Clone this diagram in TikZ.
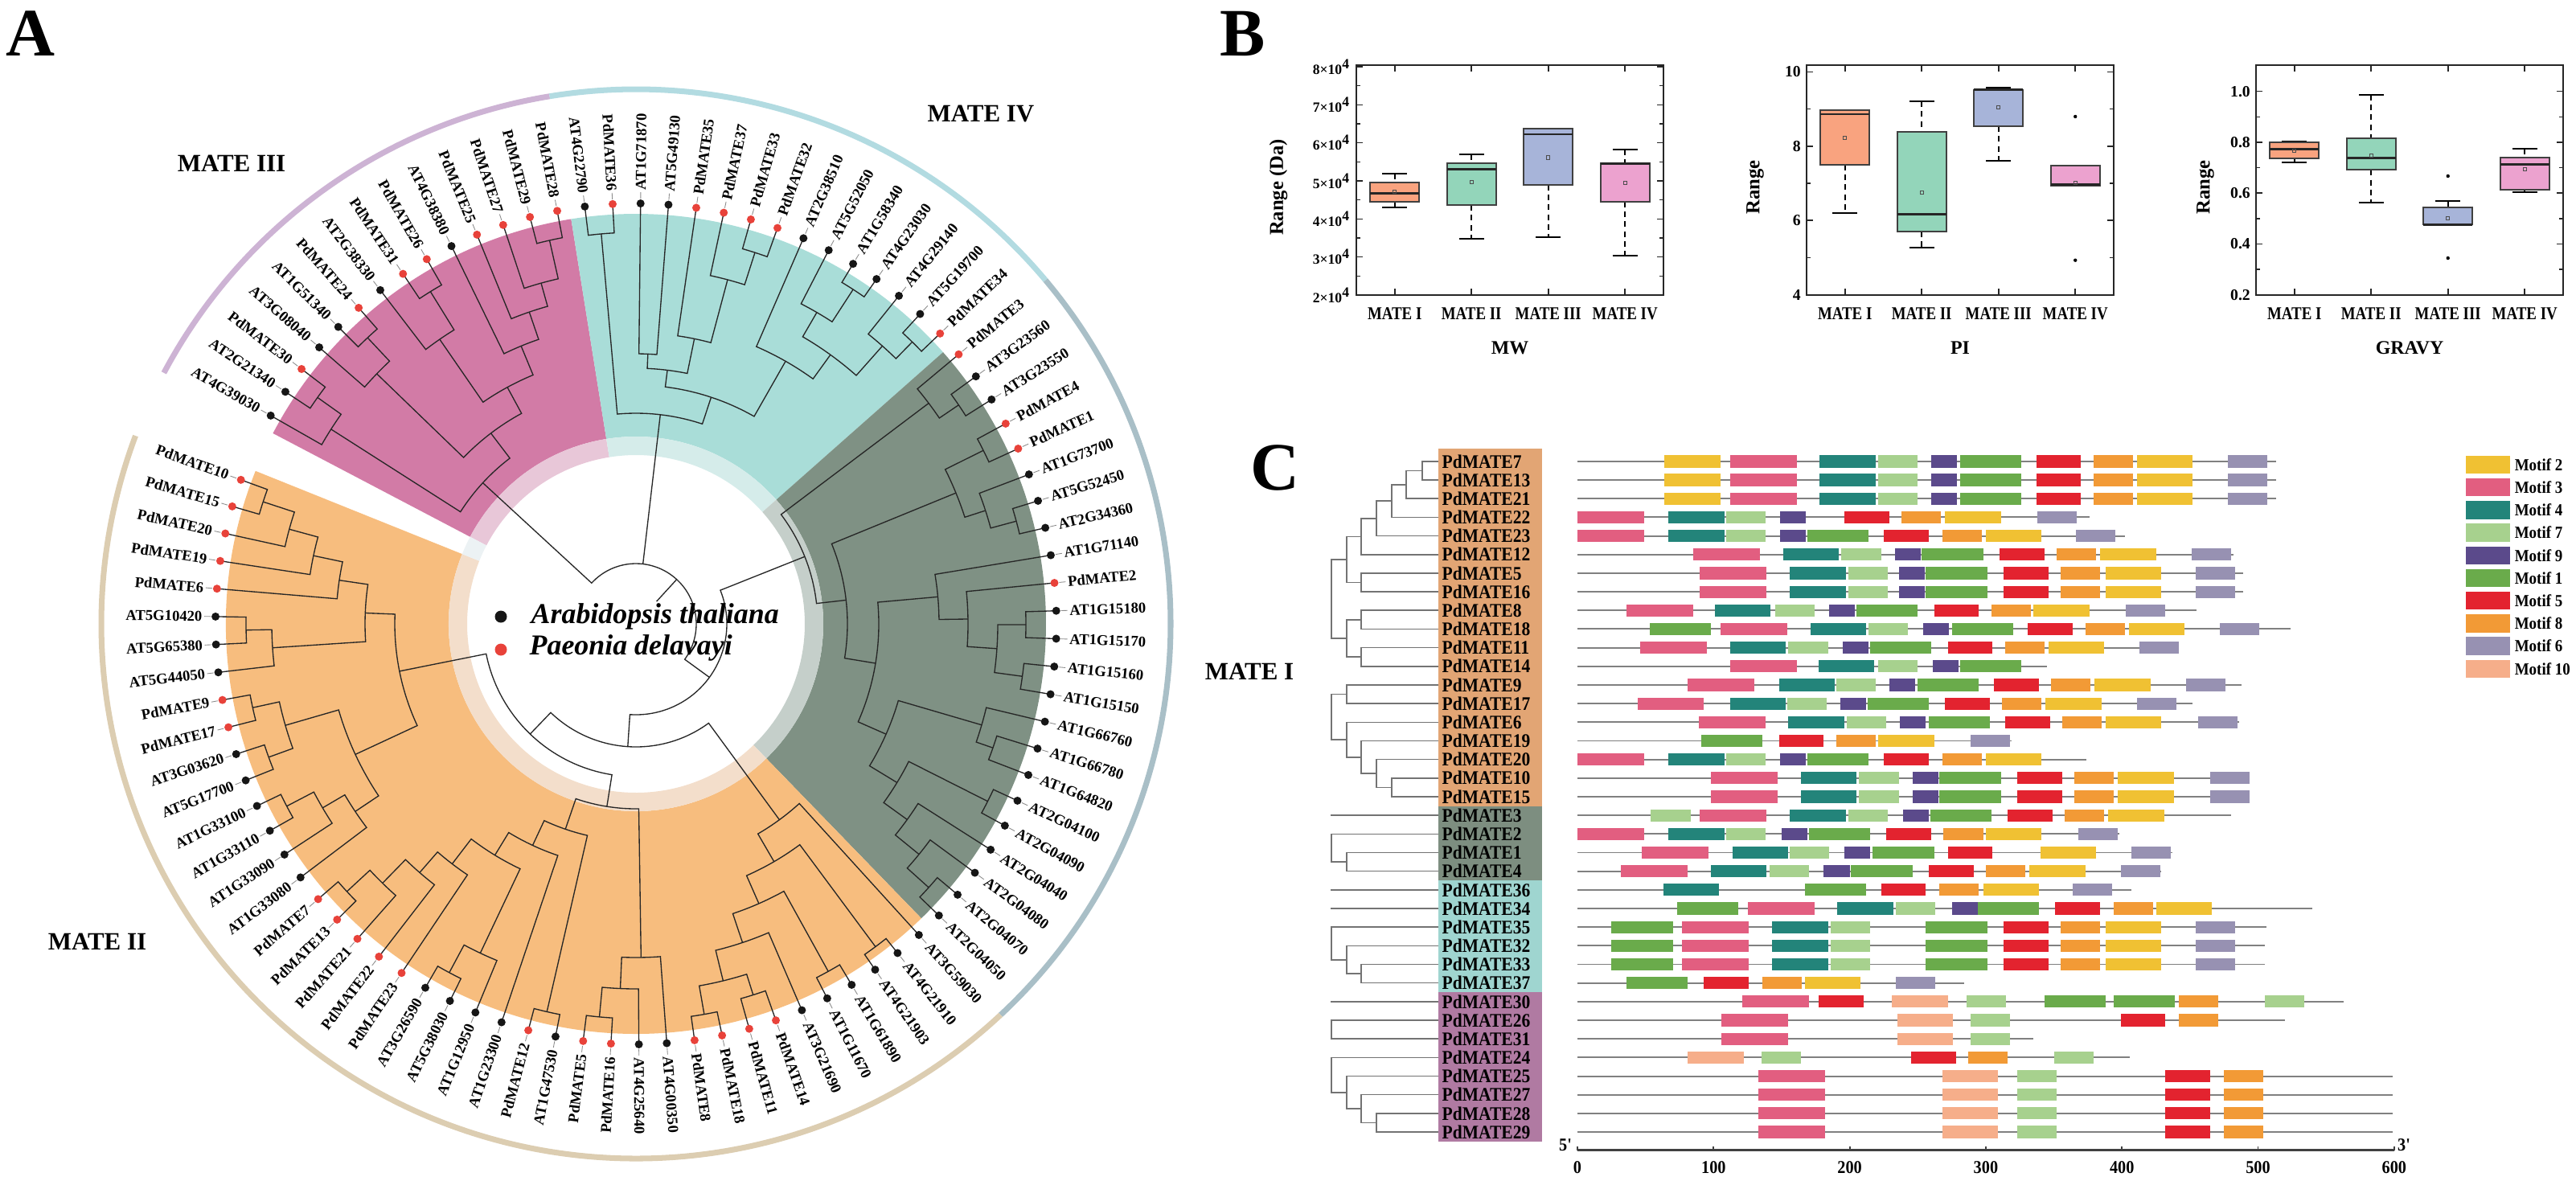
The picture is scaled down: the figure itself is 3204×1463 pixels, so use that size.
\documentclass[tikz,border=0pt]{standalone}
\usepackage{fontspec}
\setmainfont{Liberation Serif}
\newfontfamily\narrowfont{Liberation Serif}[FakeStretch=0.9]
\newfontfamily\catfont{Liberation Serif}[FakeStretch=0.84]

% panel A colours
\definecolor{fillIII}{HTML}{D27BA6}
\definecolor{fillIV}{HTML}{A9DDD8}
\definecolor{fillI}{HTML}{7F9184}
\definecolor{fillII}{HTML}{F7BD7E}
\definecolor{ringIII}{HTML}{E8C7D8}
\definecolor{ringIV}{HTML}{D5ECEA}
\definecolor{ringI}{HTML}{C5CFCA}
\definecolor{ringII}{HTML}{F3DECB}
\definecolor{ringgap}{HTML}{ECF2F4}
\definecolor{arcIII}{HTML}{CDB3D4}
\definecolor{arcIV}{HTML}{B2DBE1}
\definecolor{arcI}{HTML}{A9BFC7}
\definecolor{arcII}{HTML}{DCCDB1}
\definecolor{dotat}{HTML}{161616}
\definecolor{dotpd}{HTML}{E8423A}
% panel B colours
\definecolor{boxI}{HTML}{F9A37F}
\definecolor{boxII}{HTML}{93D5BA}
\definecolor{boxIII}{HTML}{A7B4D9}
\definecolor{boxIV}{HTML}{ECA2CF}
% panel C colours
\definecolor{mtf1}{HTML}{6AAB4B}
\definecolor{mtf2}{HTML}{F0C133}
\definecolor{mtf3}{HTML}{E25E80}
\definecolor{mtf4}{HTML}{23847A}
\definecolor{mtf5}{HTML}{E3232F}
\definecolor{mtf6}{HTML}{9791B2}
\definecolor{mtf7}{HTML}{A7D18E}
\definecolor{mtf8}{HTML}{F29A36}
\definecolor{mtf9}{HTML}{5B4A8B}
\definecolor{mtf10}{HTML}{F6AE8A}
\definecolor{grpII}{HTML}{E2A574}
\definecolor{grpI}{HTML}{7D8E80}
\definecolor{grpIV}{HTML}{9FD5D0}
\definecolor{grpIII}{HTML}{B07AA2}

\newcommand\annsector[5]{\fill[#5] (#1:#3) arc[start angle=#1,end angle=#2,radius=#3] -- (#2:#4) arc[start angle=#2,end angle=#1,radius=#4] -- cycle;}

% circular clade: name, child, child, radius
\newcommand\joinclade[4]{%
  \pgfmathsetmacro\angA{\csname ag@#2\endcsname}%
  \pgfmathsetmacro\angB{\csname ag@#3\endcsname}%
  \pgfmathsetmacro\angM{(\angA+\angB)/2}%
  \expandafter\xdef\csname ag@#1\endcsname{\angM}%
  \coordinate (#1) at (\angM:#4);
  \draw[branch] (#2) -- (\angA:#4) arc[start angle=\angA,end angle=\angB,radius=#4] -- (#3);
}

% rectangular clade: name, child, child, x
\newcommand\joinrow[4]{%
  \pgfmathsetmacro\rowA{\csname cy@#2\endcsname}%
  \pgfmathsetmacro\rowB{\csname cy@#3\endcsname}%
  \pgfmathsetmacro\rowM{(\rowA+\rowB)/2}%
  \expandafter\xdef\csname cy@#1\endcsname{\rowM}%
  \coordinate (#1) at (#4,\rowM);
  \draw[ctree] (#2) -| (#1) |- (#3);
}

% box plot: x, whisker top, box top, median, box bottom, whisker bottom, mean, colour
\newcommand\drawbox[8]{%
  \draw[whisker] (#1,#2) -- (#1,#3) (#1,#5) -- (#1,#6);
  \draw[whisker cap] (#1-15.5,#2) -- (#1+15.5,#2) (#1-15.5,#6) -- (#1+15.5,#6);
  \filldraw[fill=#8, draw=black!75, line width=0.5pt] (#1-30.5,#3) rectangle (#1+30.5,#5);
  \draw[black!85, line width=0.75pt] (#1-30.5,#4) -- (#1+30.5,#4);
  \draw[black!70, line width=0.3pt] (#1-2.2,#7-2.2) rectangle (#1+2.2,#7+2.2);
}

\begin{document}
\begin{tikzpicture}[x=0.01cm, y=-0.01cm,
  branch/.style={line width=0.38pt, black!85},
  leaf dash/.style={line width=0.25pt, black!45},
  leaf label/.style={font=\fontsize{5.3}{6}\selectfont\bfseries, inner sep=0pt},
  group label/.style={font=\fontsize{8.8}{10}\selectfont\bfseries},
  panel label/.style={font=\fontsize{24}{26}\selectfont\bfseries, inner sep=0pt},
  species/.style={font=\fontsize{10.2}{12}\selectfont\bfseries\itshape, anchor=west, inner sep=0pt},
  outer arc/.style={line width=2pt},
  axis frame/.style={line width=0.6pt, black!85},
  axis tick/.style={line width=0.45pt, black!85},
  whisker/.style={line width=0.5pt, dash pattern=on 2pt off 1.5pt},
  whisker cap/.style={line width=0.55pt},
  tick label/.style={font=\fontsize{5.6}{6}\selectfont\bfseries, anchor=east, inner sep=1pt},
  cat label/.style={font=\catfont\fontsize{6.4}{7}\selectfont\bfseries, inner sep=0pt},
  axis title/.style={font=\fontsize{6.8}{8}\selectfont\bfseries, inner sep=0pt},
  ctree/.style={line width=0.45pt, black!55},
  name label/.style={font=\narrowfont\fontsize{6.8}{7}\selectfont\bfseries, anchor=west, inner sep=0pt},
  backbone/.style={line width=0.55pt, black!50},
  axis num/.style={font=\narrowfont\fontsize{6.4}{7}\selectfont\bfseries, inner sep=0pt},
  legend label/.style={font=\narrowfont\fontsize{6}{7}\selectfont\bfseries, anchor=west, inner sep=0pt}]

\useasboundingbox (0,0) rectangle (3204,1463);

% ---------------- panel A ----------------
\node[panel label] (pA) at (38,42) {A};
\begin{scope}[shift={(791,776)}, y=0.01cm]
  \draw[outer arc, arcIII] (152:665) arc[start angle=152,end angle=99.3,radius=665];
  \draw[outer arc, arcIV] (99.3:665) arc[start angle=99.3,end angle=40,radius=665];
  \draw[outer arc, arcI] (40:665) arc[start angle=40,end angle=-47,radius=665];
  \draw[outer arc, arcII] (-47:665) arc[start angle=-47,end angle=-200.6,radius=665];

  \annsector{152.3}{99.1}{233}{510}{fillIII}
  \annsector{99.1}{41.5}{233}{510}{fillIV}
  \annsector{41.5}{-45.9}{233}{510}{fillI}
  \annsector{-45.9}{-201.9}{233}{510}{fillII}
  \annsector{152.3}{99.1}{210}{233}{ringIII}
  \annsector{99.1}{41.5}{210}{233}{ringIV}
  \annsector{41.5}{-45.9}{210}{233}{ringI}
  \annsector{-45.9}{-201.9}{210}{233}{ringII}
  \annsector{-201.9}{-207.7}{210}{233}{ringgap}

  % leaves
  \foreach \nm/\tp [count=\i from 0] in {AT4G39030/at,AT2G21340/at,PdMATE30/pd,AT3G08040/at,AT1G51340/at,PdMATE24/pd,AT2G38330/at,PdMATE31/pd,PdMATE26/pd,AT4G38380/at,PdMATE25/pd,PdMATE27/pd,PdMATE29/pd,PdMATE28/pd,
    AT4G22790/at,PdMATE36/pd,AT1G71870/at,AT5G49130/at,PdMATE35/pd,PdMATE37/pd,PdMATE33/pd,PdMATE32/pd,AT2G38510/at,AT5G52050/at,AT1G58340/at,AT4G23030/at,AT4G29140/at,AT5G19700/at,PdMATE34/pd,
    PdMATE3/pd,AT3G23560/at,AT3G23550/at,PdMATE4/pd,PdMATE1/pd,AT1G73700/at,AT5G52450/at,AT2G34360/at,AT1G71140/at,PdMATE2/pd,AT1G15180/at,AT1G15170/at,AT1G15160/at,AT1G15150/at,AT1G66760/at,AT1G66780/at,AT1G64820/at,AT2G04100/at,AT2G04090/at,AT2G04040/at,AT2G04080/at,AT2G04070/at,AT2G04050/at,
    AT3G59030/at,AT4G21910/at,AT4G21903/at,AT1G61890/at,AT1G11670/at,AT3G21690/at,PdMATE14/pd,PdMATE11/pd,PdMATE18/pd,PdMATE8/pd,AT4G00350/at,AT4G25640/at,PdMATE16/pd,PdMATE5/pd,AT1G47530/at,PdMATE12/pd,AT1G23300/at,AT1G12950/at,AT5G38030/at,AT3G26590/at,PdMATE23/pd,PdMATE22/pd,PdMATE21/pd,PdMATE13/pd,PdMATE7/pd,AT1G33080/at,AT1G33090/at,AT1G33110/at,AT1G33100/at,AT5G17700/at,AT3G03620/at,PdMATE17/pd,PdMATE9/pd,AT5G44050/at,AT5G65380/at,AT5G10420/at,PdMATE6/pd,PdMATE19/pd,PdMATE20/pd,PdMATE15/pd,PdMATE10/pd} {
    \pgfmathsetmacro\ang{150.3-3.808*\i}
    \expandafter\xdef\csname ag@\nm\endcsname{\ang}
    \coordinate (\nm) at (\ang:523);
    \pgfmathsetmacro\side{cos(\ang)>=0}
    \ifdim\side pt>0.5pt
      \pgfmathsetmacro\rot{\ang}\def\anc{west}
    \else
      \pgfmathsetmacro\rot{\ang+180}\def\anc{east}
    \fi
    \draw[leaf dash] (\ang:529) -- (\ang:537);
    \node[leaf label, rotate=\rot, anchor=\anc] (\nm-t) at (\ang:539) {\nm};
  }

  % MATE III
  \joinclade{k12}{PdMATE29}{PdMATE28}{489}
  \joinclade{k11}{PdMATE27}{k12}{440}
  \joinclade{k10}{PdMATE25}{k11}{410}
  \joinclade{k9}{AT4G38380}{k10}{374}
  \joinclade{k7}{PdMATE31}{PdMATE26}{486}
  \joinclade{k6}{AT2G38330}{k7}{430}
  \joinclade{k5}{k6}{k9}{335}
  \joinclade{k4}{AT1G51340}{PdMATE24}{488}
  \joinclade{k3}{AT3G08040}{k4}{448}
  \joinclade{k2}{k3}{k5}{298}
  \joinclade{k1}{AT2G21340}{PdMATE30}{486}
  \joinclade{k0}{AT4G39030}{k1}{450}
  \joinclade{cladeIII}{k0}{k2}{259}
  % MATE IV
  \joinclade{v1}{AT4G22790}{PdMATE36}{487}
  \joinclade{v2}{AT1G71870}{AT5G49130}{336}
  \joinclade{v3}{PdMATE33}{PdMATE32}{485}
  \joinclade{v4}{PdMATE37}{v3}{443}
  \joinclade{v5}{PdMATE35}{v4}{362}
  \joinclade{v6}{v2}{v5}{318}
  \joinclade{v7}{AT1G58340}{AT4G23030}{496}
  \joinclade{v8}{AT5G52050}{v7}{448}
  \joinclade{v9}{AT5G19700}{PdMATE34}{491}
  \joinclade{v10}{AT4G29140}{v9}{462}
  \joinclade{v11}{v8}{v10}{413}
  \joinclade{v12}{AT2G38510}{v11}{376}
  \joinclade{v13}{v6}{v12}{297}
  \joinclade{cladeIV}{v1}{v13}{262}
  % MATE I
  \joinclade{e1}{AT3G23560}{AT3G23550}{485}
  \joinclade{e2}{PdMATE3}{e1}{456}
  \joinclade{e3}{PdMATE4}{PdMATE1}{483}
  \joinclade{e4}{AT5G52450}{AT2G34360}{490}
  \joinclade{e5}{AT1G73700}{e4}{457}
  \joinclade{e6}{e3}{e5}{430}
  \joinclade{e7}{AT1G15180}{AT1G15170}{485}
  \joinclade{e8}{AT1G15160}{AT1G15150}{485}
  \joinclade{e9}{e7}{e8}{450}
  \joinclade{e10}{PdMATE2}{e9}{413}
  \joinclade{e11}{AT1G71140}{e10}{377}
  \joinclade{e12}{AT1G66780}{AT1G64820}{470}
  \joinclade{e13}{AT1G66760}{e12}{448}
  \joinclade{e14}{AT2G04100}{AT2G04090}{490}
  \joinclade{e15}{AT2G04070}{AT2G04050}{490}
  \joinclade{e16}{AT2G04080}{e15}{454}
  \joinclade{e17}{AT2G04040}{e16}{416}
  \joinclade{e18}{e14}{e17}{380}
  \joinclade{e19}{e13}{e18}{340}
  \joinclade{e20}{e11}{e19}{302}
  \joinclade{e21}{e6}{e20}{263}
  \joinclade{cladeI}{e2}{e21}{226}
  % MATE II
  \joinclade{f1}{AT4G21910}{AT4G21903}{500}
  \joinclade{f2}{AT1G61890}{AT1G11670}{494}
  \joinclade{f3}{PdMATE14}{PdMATE11}{484}
  \joinclade{f4}{PdMATE18}{PdMATE8}{493}
  \joinclade{f5}{f3}{f4}{457}
  \joinclade{f6}{AT3G21690}{f5}{418}
  \joinclade{f7}{f2}{f6}{380}
  \joinclade{f8}{f1}{f7}{342}
  \joinclade{f9}{AT3G59030}{f8}{302}
  \joinclade{g1}{PdMATE16}{PdMATE5}{491}
  \joinclade{g2}{AT4G25640}{g1}{454}
  \joinclade{g3}{AT4G00350}{g2}{415}
  \joinclade{g4}{AT1G47530}{PdMATE12}{495}
  \joinclade{g5}{AT5G38030}{AT3G26590}{492}
  \joinclade{g6}{AT1G12950}{g5}{453}
  \joinclade{g7}{PdMATE13}{PdMATE7}{490}
  \joinclade{g8}{PdMATE21}{g7}{451}
  \joinclade{g9}{PdMATE22}{g8}{410}
  \joinclade{g10}{PdMATE23}{g9}{376}
  \joinclade{g11}{g6}{g10}{337}
  \joinclade{g12}{AT1G23300}{g11}{304}
  \joinclade{g13}{g4}{g12}{270}
  \joinclade{g14}{g3}{g13}{230}
  \joinclade{h1}{AT1G33110}{AT1G33100}{490}
  \joinclade{h2}{AT1G33090}{h1}{452}
  \joinclade{h3}{AT1G33080}{h2}{420}
  \joinclade{h4}{AT5G17700}{AT3G03620}{486}
  \joinclade{h5}{PdMATE17}{PdMATE9}{488}
  \joinclade{h6}{h4}{h5}{454}
  \joinclade{h7}{h3}{h6}{385}
  \joinclade{h8}{AT5G65380}{AT5G10420}{485}
  \joinclade{h9}{AT5G44050}{h8}{453}
  \joinclade{h10}{PdMATE15}{PdMATE10}{488}
  \joinclade{h11}{PdMATE20}{h10}{447}
  \joinclade{h12}{PdMATE19}{h11}{410}
  \joinclade{h13}{PdMATE6}{h12}{373}
  \joinclade{h14}{h9}{h13}{337}
  \joinclade{h15}{h7}{h14}{300}
  \joinclade{h16}{h15}{g14}{190}
  \joinclade{cladeII}{h16}{f9}{153}
  \joinclade{iandii}{cladeI}{cladeII}{113}
  % root
  \pgfmathsetmacro\aIII{\csname ag@cladeIII\endcsname}
  \pgfmathsetmacro\aIV{\csname ag@cladeIV\endcsname}
  \pgfmathsetmacro\aIandII{\csname ag@iandii\endcsname}
  \coordinate (root) at (47.5:38);
  \draw[branch] (cladeIII) -- (\aIII:75) arc[start angle=\aIII,end angle=\aIandII,radius=75] -- (iandii);
  \draw[branch] (cladeIV) -- (\aIV:75);
  \draw[branch] (root) -- (47.5:75);

  % dots on top of branches
  \foreach \nm/\tp in {AT4G39030/at,AT2G21340/at,PdMATE30/pd,AT3G08040/at,AT1G51340/at,PdMATE24/pd,AT2G38330/at,PdMATE31/pd,PdMATE26/pd,AT4G38380/at,PdMATE25/pd,PdMATE27/pd,PdMATE29/pd,PdMATE28/pd,
    AT4G22790/at,PdMATE36/pd,AT1G71870/at,AT5G49130/at,PdMATE35/pd,PdMATE37/pd,PdMATE33/pd,PdMATE32/pd,AT2G38510/at,AT5G52050/at,AT1G58340/at,AT4G23030/at,AT4G29140/at,AT5G19700/at,PdMATE34/pd,
    PdMATE3/pd,AT3G23560/at,AT3G23550/at,PdMATE4/pd,PdMATE1/pd,AT1G73700/at,AT5G52450/at,AT2G34360/at,AT1G71140/at,PdMATE2/pd,AT1G15180/at,AT1G15170/at,AT1G15160/at,AT1G15150/at,AT1G66760/at,AT1G66780/at,AT1G64820/at,AT2G04100/at,AT2G04090/at,AT2G04040/at,AT2G04080/at,AT2G04070/at,AT2G04050/at,
    AT3G59030/at,AT4G21910/at,AT4G21903/at,AT1G61890/at,AT1G11670/at,AT3G21690/at,PdMATE14/pd,PdMATE11/pd,PdMATE18/pd,PdMATE8/pd,AT4G00350/at,AT4G25640/at,PdMATE16/pd,PdMATE5/pd,AT1G47530/at,PdMATE12/pd,AT1G23300/at,AT1G12950/at,AT5G38030/at,AT3G26590/at,PdMATE23/pd,PdMATE22/pd,PdMATE21/pd,PdMATE13/pd,PdMATE7/pd,AT1G33080/at,AT1G33090/at,AT1G33110/at,AT1G33100/at,AT5G17700/at,AT3G03620/at,PdMATE17/pd,PdMATE9/pd,AT5G44050/at,AT5G65380/at,AT5G10420/at,PdMATE6/pd,PdMATE19/pd,PdMATE20/pd,PdMATE15/pd,PdMATE10/pd}
    \fill[dot\tp] (\nm) circle[radius=5];

  % species key
  \coordinate (sp1) at (-168,9);
  \coordinate (sp2) at (-168,-32);
  \fill[dotat] (sp1) circle[radius=7.5];
  \fill[dotpd] (sp2) circle[radius=7.5];
  \node[species] (spA) at (-131,9) {Arabidopsis thaliana};
  \node[species] (spP) at (-133,-30) {Paeonia delavayi};
\end{scope}
\node[group label] (labIII) at (288,203) {MATE III};
\node[group label] (labIV) at (1220,142) {MATE IV};
\node[group label] (labI) at (1554,835) {MATE I};
\node[group label] (labII) at (121,1171) {MATE II};

% ---------------- panel B ----------------
\node[panel label] (pB) at (1546,42) {B};
\foreach \L [count=\p] in {1687,2247,2806} {
  \draw[axis frame] (\L,81) rectangle (\L+382,367);
  \foreach \g [count=\k from 0] in {MATE I,MATE II,MATE III,MATE IV} {
    \draw[axis tick] (\L+47.7+95.5*\k,81) -- ++(0,8);
    \draw[axis tick] (\L+47.7+95.5*\k,367) -- ++(0,-8);
    \node[cat label] (cat\p-\k) at (\L+47.7+95.5*\k,390) {\g};
  }
}
% MW axis
\foreach \v [count=\k from 0] in {8,7,6,5,4,3,2} {
  \pgfmathsetmacro\yy{83+47.33*\k}
  \draw[axis tick] (1687,\yy) -- ++(8,0);
  \draw[axis tick] (2069,\yy) -- ++(-8,0);
  \node[tick label, font=\fontsize{5}{6}\selectfont\bfseries] (mw\v) at (1684,\yy) {\v×10\textsuperscript{4}};
}
\foreach \k in {0,...,5} {
  \pgfmathsetmacro\yy{83+47.33*(\k+0.5)}
  \draw[axis tick] (1687,\yy) -- ++(5,0);
  \draw[axis tick] (2069,\yy) -- ++(-5,0);
}
% PI axis
\foreach \v [count=\k from 0] in {10,8,6,4} {
  \pgfmathsetmacro\yy{89.3+92.47*\k}
  \draw[axis tick] (2247,\yy) -- ++(8,0);
  \draw[axis tick] (2629,\yy) -- ++(-8,0);
  \node[tick label] (pi\v) at (2244,\yy) {\v};
}
\foreach \k in {0,1,2} {
  \pgfmathsetmacro\yy{89.3+92.47*(\k+0.5)}
  \draw[axis tick] (2247,\yy) -- ++(5,0);
  \draw[axis tick] (2629,\yy) -- ++(-5,0);
}
% GRAVY axis
\foreach \v [count=\k from 0] in {1.0,0.8,0.6,0.4,0.2} {
  \pgfmathsetmacro\yy{113.7+63.25*\k}
  \draw[axis tick] (2806,\yy) -- ++(8,0);
  \draw[axis tick] (3188,\yy) -- ++(-8,0);
  \node[tick label] (gr\k) at (2803,\yy) {\v};
}
\foreach \k in {0,...,3} {
  \pgfmathsetmacro\yy{145.3+63.25*\k}
  \draw[axis tick] (2806,\yy) -- ++(5,0);
  \draw[axis tick] (3188,\yy) -- ++(-5,0);
}
\node[axis title, rotate=90, font=\fontsize{7}{8}\selectfont\bfseries] (ylMW) at (1590,233) {Range (Da)};
\node[axis title, rotate=90, font=\fontsize{7}{8}\selectfont\bfseries] (ylPI) at (2183,233) {Range};
\node[axis title, rotate=90, font=\fontsize{7}{8}\selectfont\bfseries] (ylGR) at (2743,233) {Range};
\node[axis title] (tMW) at (1878,433) {MW};
\node[axis title] (tPI) at (2438,433) {PI};
\node[axis title] (tGR) at (2997,433) {GRAVY};
% MW boxes
\drawbox{1734.7}{216}{226.7}{240.3}{251}{258}{238.7}{boxI}
\drawbox{1830.2}{192.3}{203}{210.7}{255}{297.3}{226.7}{boxII}
\drawbox{1925.7}{160}{160}{167}{229.7}{295}{196}{boxIII}
\drawbox{2021.2}{186}{203.3}{203.3}{250.7}{318.3}{227.3}{boxIV}
% PI boxes
\drawbox{2294.7}{136.7}{137.3}{142}{204.7}{265}{171.7}{boxI}
\drawbox{2390.2}{126}{164.3}{266.7}{287.7}{308}{239.3}{boxII}
\drawbox{2485.7}{108.7}{111.7}{111.7}{157}{200.3}{133.3}{boxIII}
\drawbox{2581.2}{206.3}{206.3}{229.7}{231.3}{231.3}{227.7}{boxIV}
\fill (2581.2,145) circle[radius=2.2] (2581.2,323.7) circle[radius=2.2];
% GRAVY boxes
\drawbox{2853.7}{175.7}{177}{185.3}{197.3}{202.3}{187.7}{boxI}
\drawbox{2949.2}{117.7}{171.7}{196.3}{211.3}{252}{193.3}{boxII}
\drawbox{3044.7}{250}{257.7}{279.3}{279.3}{279.3}{271.7}{boxIII}
\drawbox{3140.2}{185}{195.7}{204.7}{235.7}{239.3}{210.7}{boxIV}
\fill (3044.7,219) circle[radius=2.2] (3044.7,321) circle[radius=2.2];

% ---------------- panel C ----------------
\node[panel label] (pC) at (1586,582) {C};
\fill[grpII] (1789,558) rectangle (1918,1002.6);
\fill[grpI] (1789,1002.6) rectangle (1918,1095.3);
\fill[grpIV] (1789,1095.3) rectangle (1918,1234.3);
\fill[grpIII] (1789,1234.3) rectangle (1918,1419.7);

\foreach \nm/\len/\mots [count=\rw] in {
  PdMATE7/513/{2/64,3/112,4/178,7/221,9/260,1/281,5/337,8/379,2/411,6/478},
  PdMATE13/513/{2/64,3/112,4/178,7/221,9/260,1/281,5/337,8/379,2/411,6/478},
  PdMATE21/513/{2/64,3/112,4/178,7/221,9/260,1/281,5/337,8/379,2/411,6/478},
  PdMATE22/376/{3/0,4/67,7/109,9/149,5/196,8/238,2/270,6/338},
  PdMATE23/402/{3/0,4/67,7/109,9/149,1/169,5/225,8/268,2/300,6/366},
  PdMATE12/482/{3/85,4/151,7/194,9/233,1/253,5/310,8/352,2/384,6/451},
  PdMATE5/489/{3/90,4/156,7/199,9/236,1/256,5/313,8/355,2/388,6/454},
  PdMATE16/489/{3/90,4/156,7/199,9/236,1/256,5/313,8/355,2/388,6/454},
  PdMATE8/455/{3/36,4/101,7/145,9/185,1/205,5/262,8/304,2/335,6/403},
  PdMATE18/524/{1/53,3/105,4/171,7/214,9/254,1/275,5/331,8/373,2/405,6/472},
  PdMATE11/442/{3/46,4/112,7/155,9/195,1/215,5/272,8/314,2/346,6/413},
  PdMATE14/345/{3/112,4/177,7/221,9/261,1/281},
  PdMATE9/488/{3/81,4/148,7/190,9/229,1/250,5/306,8/348,2/380,6/447},
  PdMATE17/452/{3/44,4/112,7/154,9/193,1/213,5/270,8/312,2/344,6/411},
  PdMATE6/486/{3/89,4/155,7/198,9/237,1/258,5/314,8/356,2/388,6/456},
  PdMATE19/319/{1/91,5/148,8/190,2/221,6/289},
  PdMATE20/374/{3/0,4/67,7/109,9/149,1/169,5/225,8/268,2/300},
  PdMATE10/494/{3/98,4/164,7/207,9/246,1/266,5/323,8/365,2/397,6/465},
  PdMATE15/494/{3/98,4/164,7/207,9/246,1/266,5/323,8/365,2/397,6/465},
  PdMATE3/480/{7/54,3/90,4/156,7/199,9/239,1/259,5/316,8/358,2/390},
  PdMATE2/398/{3/0,4/67,7/109,9/150,1/170,5/227,8/269,2/300,6/368},
  PdMATE1/437/{3/47,4/114,7/156,9/196,1/217,5/272,2/340,6/407},
  PdMATE4/429/{3/32,4/98,7/141,9/181,1/201,5/258,8/300,2/332,6/399},
  PdMATE36/407/{4/63,1/167,5/223,8/266,2/298,6/364},
  PdMATE34/540/{1/73,3/125,4/191,7/234,9/275,1/294,5/351,8/394,2/425},
  PdMATE35/506/{1/25,3/77,4/143,7/186,1/256,5/313,8/355,2/388,6/454},
  PdMATE32/505/{1/25,3/77,4/143,7/186,1/256,5/313,8/355,2/388,6/454},
  PdMATE33/505/{1/25,3/77,4/143,7/186,1/256,5/313,8/355,2/388,6/454},
  PdMATE37/284/{1/36,5/93,8/136,2/167,6/234},
  PdMATE30/563/{3/121,5/177,10/231,7/286,1/343,1/394,8/442,7/505},
  PdMATE26/520/{3/106,10/235,7/289,5/399,8/442},
  PdMATE31/335/{3/106,10/235,7/289},
  PdMATE24/406/{10/81,7/135,5/245,8/287,7/350},
  PdMATE25/599/{3/133,10/268,7/323,5/432,8/475},
  PdMATE27/599/{3/133,10/268,7/323,5/432,8/475},
  PdMATE28/599/{3/133,10/268,7/323,5/432,8/475},
  PdMATE29/599/{3/133,10/268,7/323,5/432,8/475}} {
  \pgfmathsetmacro\yy{573.9+23.17*(\rw-1)}
  \expandafter\xdef\csname cy@C-\nm\endcsname{\yy}
  \coordinate (C-\nm) at (1789,\yy);
  \node[name label] (C-\nm-t) at (1793,\yy) {\nm};
  \draw[backbone] (1962,\yy) -- (1962+1.693*\len,\yy);
  \foreach \m/\s in \mots {
    \pgfmathsetmacro\mwid{{45,41,49,41,33,29,29,29,19,41}[\m-1]}
    \fill[mtf\m] (1962+1.693*\s,\yy-7.6) rectangle (1962+1.693*\s+1.693*\mwid,\yy+7.6);
  }
}
% tree of panel C
\joinrow{ca1}{C-PdMATE7}{C-PdMATE13}{1769}
\joinrow{ca2}{ca1}{C-PdMATE21}{1749}
\joinrow{ca3}{ca2}{C-PdMATE22}{1731}
\joinrow{ca4}{ca3}{C-PdMATE23}{1712}
\joinrow{ca5}{ca4}{C-PdMATE12}{1693}
\joinrow{ca6}{C-PdMATE5}{C-PdMATE16}{1693}
\joinrow{ca7}{ca5}{ca6}{1675}
\joinrow{ca8}{C-PdMATE8}{C-PdMATE18}{1693}
\joinrow{ca9}{C-PdMATE11}{C-PdMATE14}{1693}
\joinrow{ca10}{ca8}{ca9}{1675}
\joinrow{ca11}{ca7}{ca10}{1656}
\joinrow{cb1}{C-PdMATE10}{C-PdMATE15}{1731}
\joinrow{cb2}{C-PdMATE20}{cb1}{1712}
\joinrow{cb3}{C-PdMATE19}{cb2}{1693}
\joinrow{cb4}{C-PdMATE6}{cb3}{1675}
\joinrow{cb5}{C-PdMATE9}{C-PdMATE17}{1675}
\joinrow{cb6}{cb5}{cb4}{1656}
\joinrow{cc1}{C-PdMATE1}{C-PdMATE4}{1675}
\joinrow{cc2}{C-PdMATE2}{cc1}{1656}
\joinrow{cd1}{C-PdMATE33}{C-PdMATE37}{1693}
\joinrow{cd2}{C-PdMATE32}{cd1}{1675}
\joinrow{cd3}{C-PdMATE35}{cd2}{1656}
\joinrow{ce1}{C-PdMATE26}{C-PdMATE31}{1656}
\joinrow{ce2}{C-PdMATE28}{C-PdMATE29}{1712}
\joinrow{ce3}{C-PdMATE27}{ce2}{1693}
\joinrow{ce4}{C-PdMATE25}{ce3}{1675}
\joinrow{ce5}{C-PdMATE24}{ce4}{1656}
\foreach \c in {PdMATE3,PdMATE36,PdMATE34,PdMATE30}
  \draw[ctree] (C-\c) -- ++(-134,0);
% position axis
\draw[black!75, line width=0.7pt] (1962,1430.6) -- (2978,1430.6);
\foreach \t in {0,100,...,600} {
  \draw[black!75, line width=0.5pt] (1962+1.693*\t,1430.6) -- ++(0,-5);
  \node[axis num] (ax\t) at (1962+1.693*\t,1452) {\t};
}
\node[axis num] (end5) at (1947,1424) {5'};
\node[axis num] (end3) at (2990,1424) {3'};
% motif key
\foreach \m [count=\k from 0] in {2,3,4,7,9,1,5,8,6,10} {
  \fill[mtf\m] (3067,578+28.2*\k-11.2) rectangle (3122,578+28.2*\k+11.2);
  \node[legend label] (key\m) at (3127,578+28.2*\k) {Motif \m};
}
\end{tikzpicture}
\end{document}
